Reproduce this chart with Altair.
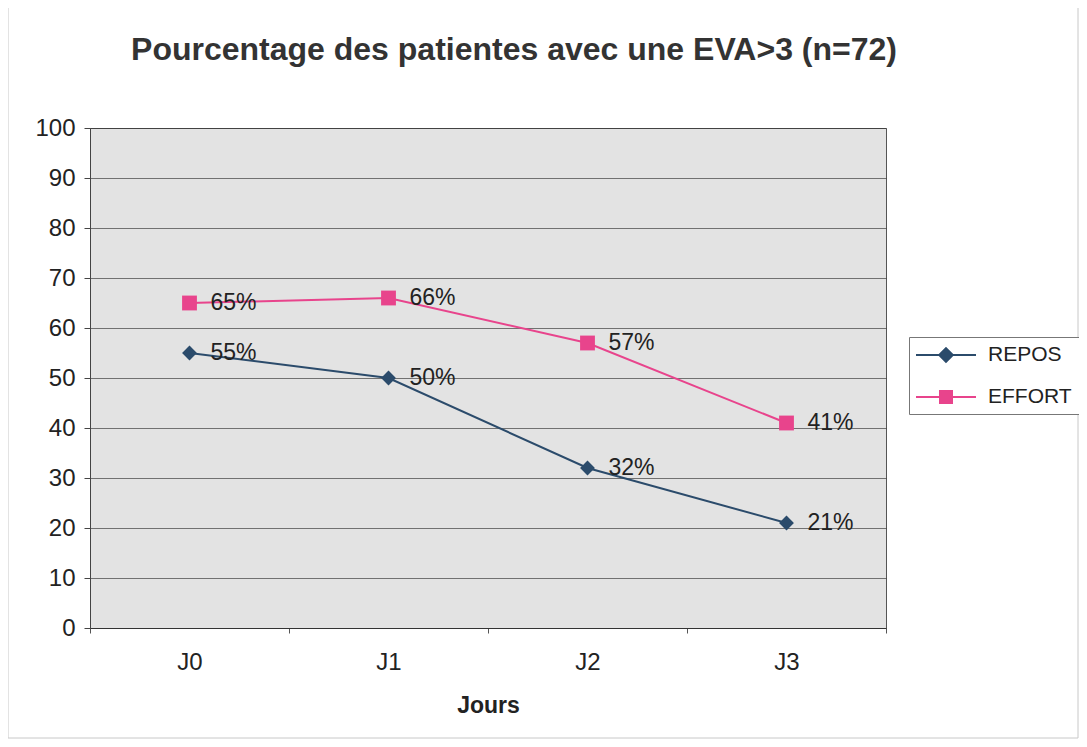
import altair as alt
import pandas as pd

days = ["J0", "J1", "J2", "J3"]
series_names = ["REPOS", "EFFORT"]
repos = [55, 50, 32, 21]
effort = [65, 66, 57, 41]
colors = ["#2b4b6b", "#e8448c"]
y_ticks = [0, 10, 20, 30, 40, 50, 60, 70, 80, 90, 100]

rows = []
for d, r, e in zip(days, repos, effort):
    rows.append({"jour": d, "serie": "REPOS", "val": r, "lab": f"{r}%"})
    rows.append({"jour": d, "serie": "EFFORT", "val": e, "lab": f"{e}%"})
df = pd.DataFrame(rows)

diamond_path = "M-3,0H3M0,-0.68L0.68,0L0,0.68L-0.68,0Z"
square_path = "M-3,0H3M-0.6,-0.6H0.6V0.6H-0.6Z"

x = alt.X("jour:N", sort=days, title="Jours",
          scale=alt.Scale(paddingInner=0, paddingOuter=0),
          axis=alt.Axis(labelAngle=0, labelFontSize=24, labelColor="#222",
                        labelFont="Liberation Sans", labelPadding=17,
                        titleFont="Liberation Sans", titleFontSize=23,
                        titleFontWeight="bold", titleColor="#222", titlePadding=20,
                        tickBand="extent", tickSize=5, tickColor="#555",
                        domainColor="#333", grid=False))
y = alt.Y("val:Q", title=None,
          scale=alt.Scale(domain=[0, 100], nice=False),
          axis=alt.Axis(values=y_ticks, labelFontSize=24, labelColor="#222",
                        labelFont="Liberation Sans", labelPadding=9,
                        tickSize=6, tickColor="#444", domainColor="#444",
                        gridColor="#3a3a3a", gridWidth=0.8, gridOpacity=0.85))

color_scale = alt.Scale(domain=series_names, range=colors)

legend_cfg = dict(title=None, orient="none", legendX=819, legendY=209,
                  labelFont="Liberation Sans", labelFontSize=21,
                  labelColor="#222", labelOffset=31,
                  symbolSize=400, symbolStrokeWidth=2, symbolOpacity=1,
                  rowPadding=20, strokeColor="#777",
                  padding=7, fillColor="#ffffff",
                  symbolOffset=19)

base = alt.Chart(df)

frame = alt.Chart(pd.DataFrame({"f": [0]})).mark_rect(
    fill=None, stroke="#c8c8c8", strokeWidth=1).encode(
    x=alt.value(-82), x2=alt.value(988), y=alt.value(-121), y2=alt.value(610))

lines = base.mark_line(strokeWidth=2).encode(
    x=x, y=y, color=alt.Color("serie:N", sort=series_names, scale=color_scale, legend=None),
    detail="serie:N")
points = base.mark_point(filled=True, size=220, opacity=1).encode(
    x=x, y=y,
    color=alt.Color("serie:N", sort=series_names, scale=color_scale, legend=None),
    shape=alt.Shape("serie:N", sort=series_names,
                    scale=alt.Scale(domain=series_names, range=["diamond", "square"]),
                    legend=None))
labels = base.mark_text(align="left", baseline="middle", dx=21, fontSize=23,
                        font="Liberation Sans", color="#222").encode(
    x=x, y=y, text="lab:N")

legend_layer = base.transform_filter("datum.val < 0").mark_point(
    filled=True, opacity=1, strokeWidth=2).encode(
    x=x, y=y,
    fill=alt.Fill("serie:N", sort=series_names,
                  scale=alt.Scale(domain=series_names, range=colors),
                  legend=alt.Legend(**legend_cfg)),
    stroke=alt.Stroke("serie:N", sort=series_names,
                      scale=alt.Scale(domain=series_names, range=colors),
                      legend=alt.Legend(**legend_cfg)),
    shape=alt.Shape("serie:N", sort=series_names,
                    scale=alt.Scale(domain=series_names, range=[diamond_path, square_path]),
                    legend=alt.Legend(**legend_cfg)))

chart = alt.layer(frame, lines, points, labels, legend_layer).resolve_scale(
    shape="independent", fill="independent", stroke="independent"
).properties(
    width=796, height=500,
    title=alt.TitleParams("Pourcentage des patientes avec une EVA>3 (n=72)",
                          font="Liberation Sans", fontSize=32, fontWeight="bold",
                          color="#333", anchor="middle", dx=26, offset=0, dy=60,
                          frame="group"),
    autosize=alt.AutoSizeParams(type="none"),
    padding={"left": 82, "top": 120, "right": 193, "bottom": 111},
    background="#ffffff",
).configure_view(fill="#e3e3e3", stroke="#555", strokeWidth=1)

chart.save("out.html", embed_options={"renderer": "svg", "actions": False})
